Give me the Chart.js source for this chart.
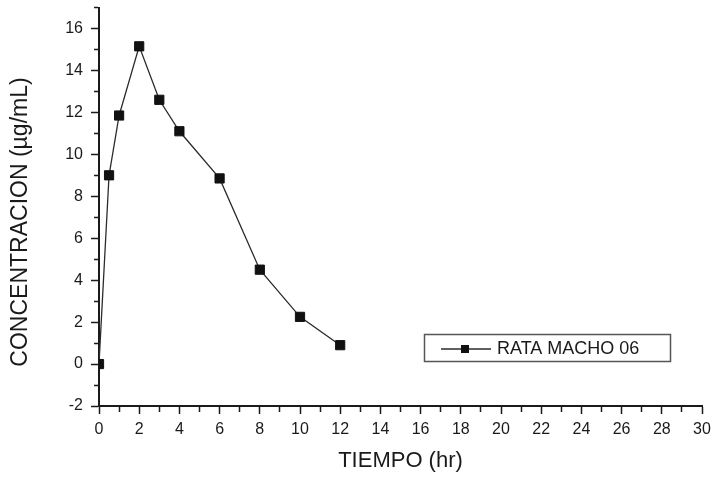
<!DOCTYPE html>
<html>
<head>
<meta charset="utf-8">
<script src="https://cdn.jsdelivr.net/npm/chart.js@4/dist/chart.umd.min.js"></script>
<style>
  html, body { margin: 0; padding: 0; background: #fff; }
  #wrap { width: 715px; height: 478px; position: relative; }
</style>
</head>
<body>
<div id="wrap"><canvas id="pkC"></canvas></div>
<script>
// tiempo (hr) vs concentracion (ug/mL)
const tiempo = [0, 0.5, 1, 2, 3, 4, 6, 8, 10, 12];
const concentracion = [0, 9.0, 11.85, 15.15, 12.6, 11.1, 8.85, 4.5, 2.25, 0.9];
const serieLabel = 'RATA MACHO 06';
const xTitle = 'TIEMPO (hr)';
const yTitle = 'CONCENTRACION (\u00b5g/mL)';
const xRange = [0, 30];
const yRange = [-2, 17];

const FONT = '"Liberation Sans", Arial, Helvetica, sans-serif';

// minor ticks (odd values) are drawn shorter by dashing the tick line
const minorDashY = c => (c.tick && Math.abs(c.tick.value) % 2 === 1) ? [0, 3, 5, 100] : [];
const minorDashX = c => (c.tick && Math.abs(c.tick.value) % 2 === 1) ? [5, 100] : [];
const evenOnly = v => (Math.abs(v) % 2 === 0 ? String(v) : '');

const decor = {
  id: 'decor',
  afterDraw(chart) {
    const { ctx, chartArea: a } = chart;
    ctx.save();
    ctx.fillStyle = '#1a1a1a';
    ctx.textAlign = 'center'; ctx.textBaseline = 'middle';
    ctx.font = '22px ' + FONT;
    ctx.fillText(xTitle, (a.left + a.right) / 2, 461);
    ctx.save();
    ctx.font = '23px ' + FONT;
    ctx.translate(21, 222); ctx.rotate(-Math.PI / 2);
    ctx.fillText(yTitle, 0, 0);
    ctx.restore();

    // legend box
    const ds = chart.data.datasets[0];
    ctx.strokeStyle = '#555'; ctx.lineWidth = 1.5;
    ctx.strokeRect(424.5, 334.5, 246, 27);
    ctx.strokeStyle = ds.borderColor; ctx.lineWidth = 1.3;
    ctx.beginPath(); ctx.moveTo(441, 349); ctx.lineTo(491, 349); ctx.stroke();
    ctx.fillStyle = ds.pointBackgroundColor;
    ctx.fillRect(461, 345, 8, 8);
    ctx.fillStyle = '#1a1a1a';
    ctx.font = '18px ' + FONT;
    ctx.textAlign = 'left';
    ctx.fillText(ds.label, 497, 349);
    ctx.restore();
  }
};

const noPad = s => { s.paddingTop = 0; s.paddingBottom = 0; s.paddingLeft = 0; s.paddingRight = 0; };

new Chart(document.getElementById('pkC'), {
  type: 'line',
  data: {
    datasets: [{
      label: serieLabel,
      data: tiempo.map((t, i) => ({ x: t, y: concentracion[i] })),
      borderColor: '#2b2b2b', borderWidth: 1.3, tension: 0,
      pointStyle: 'rect', pointRadius: 6.5, pointBorderWidth: 1,
      pointBackgroundColor: '#111', pointBorderColor: '#111',
    }],
  },
  options: {
    responsive: true, maintainAspectRatio: false, animation: false,
    layout: { padding: { top: 7, right: 13, left: 0, bottom: 0 } },
    plugins: { legend: { display: false }, tooltip: { enabled: false } },
    scales: {
      x: {
        type: 'linear', position: 'bottom', min: xRange[0], max: xRange[1],
        afterFit: s => { s.height = 72; noPad(s); },
        ticks: { stepSize: 1, autoSkip: false, maxRotation: 0, padding: 6, color: '#1a1a1a',
                 font: { family: FONT, size: 16 }, callback: evenOnly },
        grid: { drawOnChartArea: false, tickLength: 8, tickWidth: 1.5, tickColor: '#1a1a1a',
                tickBorderDash: minorDashX },
        border: { display: true, color: '#1a1a1a', width: 2 },
      },
      y: {
        type: 'linear', position: 'left', min: yRange[0], max: yRange[1],
        afterFit: s => { s.width = 99; noPad(s); },
        ticks: { stepSize: 1, autoSkip: false, padding: 8, color: '#1a1a1a',
                 font: { family: FONT, size: 16 }, callback: evenOnly },
        grid: { drawOnChartArea: false, tickLength: 8, tickWidth: 1.5, tickColor: '#1a1a1a',
                tickBorderDash: minorDashY },
        border: { display: true, color: '#1a1a1a', width: 2 },
      },
    },
  },
  plugins: [decor],
});
</script>
</body>
</html>
